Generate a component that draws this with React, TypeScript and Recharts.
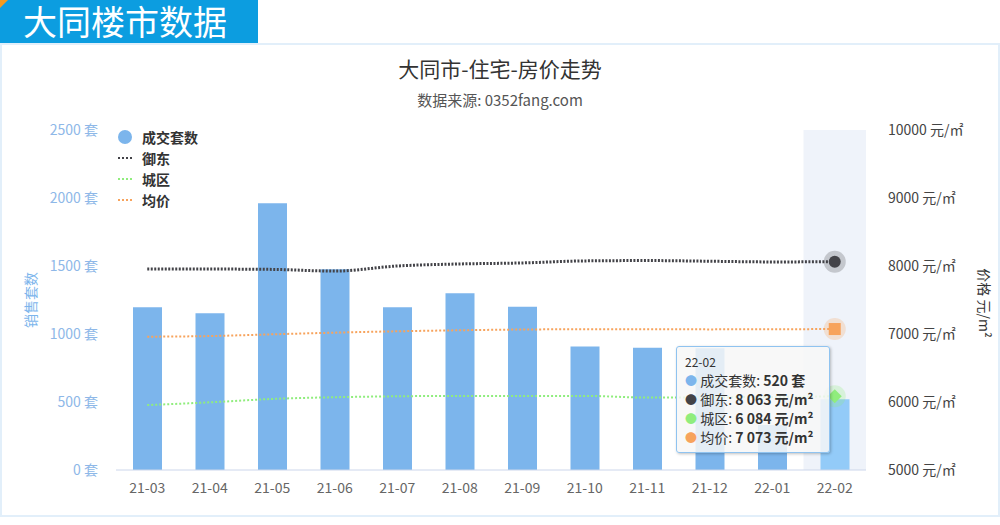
import React from 'react';
import {
  ComposedChart, Bar, Line, XAxis, YAxis, Tooltip, Cell, ReferenceArea,
} from 'recharts';

const months = ['21-03', '21-04', '21-05', '21-06', '21-07', '21-08', '21-09', '21-10', '21-11', '21-12', '22-01', '22-02'];
const sales = [1196, 1152, 1961, 1476, 1196, 1299, 1201, 909, 899, 895, 330, 520];
const yudong = [7955, 7955, 7950, 7925, 8000, 8030, 8045, 8075, 8080, 8070, 8060, 8063];
const chengqu = [5955, 5995, 6045, 6070, 6084, 6090, 6090, 6090, 6065, 6070, 6075, 6084];
const junjia = [6960, 6970, 6995, 7020, 7040, 7055, 7066, 7070, 7070, 7068, 7070, 7073];
const leftTicks = [0, 500, 1000, 1500, 2000, 2500];
const rightTicks = [5000, 6000, 7000, 8000, 9000, 10000];

const data = months.map((m, i) => ({
  month: m,
  sales: sales[i],
  yudong: yudong[i],
  chengqu: chengqu[i],
  junjia: junjia[i],
}));

const FONT = '"Noto Sans CJK SC", "Noto Sans", sans-serif';
const C_BAR = '#7cb5ec';
const C_BAR_HOVER = '#93cbf8';
const C_YD = '#434348';
const C_CQ = '#90ed7d';
const C_JJ = '#f7a35c';

const fmt = (v: number) => {
  const s = String(v);
  return s.length > 3 ? s.slice(0, s.length - 3) + ' ' + s.slice(s.length - 3) : s;
};

const TooltipBox = (props: any) => {
  const { active, label } = props;
  if (!active) return null;
  const i = months.indexOf(label);
  const idx = i >= 0 ? i : months.length - 1;
  const rows = [
    { c: C_BAR, n: '成交套数', v: `${sales[idx]} 套` },
    { c: C_YD, n: '御东', v: `${fmt(yudong[idx])} 元/m²` },
    { c: C_CQ, n: '城区', v: `${fmt(chengqu[idx])} 元/m²` },
    { c: C_JJ, n: '均价', v: `${fmt(junjia[idx])} 元/m²` },
  ];
  return (
    <div style={{
      background: 'rgba(247,247,247,0.85)', border: '1px solid #8fc3f0', borderRadius: 3,
      boxShadow: '1px 1px 3px rgba(0,0,0,0.25)', padding: '6px 6px 6px 8px', fontFamily: FONT,
      color: '#333', width: 154, height: 107, boxSizing: 'border-box',
    }}>
      <div style={{ fontSize: 12, lineHeight: '18px' }}>{months[idx]}</div>
      {rows.map((r) => (
        <div key={r.n} style={{ fontSize: 14, lineHeight: '18px', whiteSpace: 'nowrap' }}>
          <span style={{ color: r.c, fontSize: 12 }}>●</span> {r.n}: <b>{r.v}</b>
        </div>
      ))}
    </div>
  );
};

const LegendBox = () => {
  const items = [
    { n: '成交套数', c: C_BAR, t: 'circle' },
    { n: '御东', c: C_YD, t: 'line' },
    { n: '城区', c: C_CQ, t: 'line' },
    { n: '均价', c: C_JJ, t: 'line' },
  ];
  return (
    <div style={{ fontFamily: FONT }}>
      {items.map((it) => (
        <div key={it.n} style={{ display: 'flex', alignItems: 'center', height: 21 }}>
          <svg width={22} height={16} style={{ marginRight: 3 }}>
            {it.t === 'circle'
              ? <circle cx={8} cy={8} r={7} fill={it.c} />
              : <line x1={1} y1={8} x2={16} y2={8} stroke={it.c} strokeWidth={2} strokeDasharray="2 2" />}
          </svg>
          <span style={{ fontSize: 14, fontWeight: 'bold', color: '#333' }}>{it.n}</span>
        </div>
      ))}
    </div>
  );
};

const makeDot = (color: string, kind: string) => (p: any) => {
  const { cx, cy } = p;
  if (cx == null || cy == null) return <g />;
  let shape;
  if (kind === 'circle') shape = <circle cx={cx} cy={cy} r={6} fill={color} />;
  else if (kind === 'square') shape = <rect x={cx - 6} y={cy - 6} width={12} height={12} fill={color} />;
  else shape = <path d={`M${cx} ${cy - 7}L${cx + 7} ${cy}L${cx} ${cy + 7}L${cx - 7} ${cy}Z`} fill={color} />;
  return (
    <g>
      <circle cx={cx} cy={cy} r={11} fill={color} fillOpacity={0.25} />
      {shape}
    </g>
  );
};

export default function App() {
  return (
    <div style={{ position: 'absolute', left: 0, top: 0, width: 1000, height: 525, background: '#fff', fontFamily: FONT, overflow: 'hidden' }}>
      {/* header */}
      <div style={{ position: 'absolute', left: 0, top: 0, width: 258, height: 43, background: '#0c9de0' }} />
      <div style={{ position: 'absolute', left: 0, top: 0, width: 0, height: 0, borderTop: '8px solid #f39a1e', borderRight: '8px solid transparent' }} />
      <div style={{ position: 'absolute', left: 23, top: 0, lineHeight: '42px', color: '#fff', fontSize: 34, whiteSpace: 'nowrap' }}>大同楼市数据</div>
      <div style={{ position: 'absolute', left: 0, top: 43, width: 1000, height: 474, border: '2px solid #e2effa', boxSizing: 'border-box' }} />
      {/* titles */}
      <div style={{ position: 'absolute', left: 0, top: 53, width: 1000, textAlign: 'center', fontSize: 21, color: '#333', lineHeight: '30px' }}>大同市-住宅-房价走势</div>
      <div style={{ position: 'absolute', left: 0, top: 90, width: 1000, textAlign: 'center', fontSize: 15, color: '#555', lineHeight: '20px' }}>数据来源: 0352fang.com</div>
      <div style={{ position: 'absolute', left: 30, top: 300, transform: 'translate(-50%,-50%) rotate(-90deg)', fontSize: 14, color: C_BAR, whiteSpace: 'nowrap' }}>销售套数</div>
      <div style={{ position: 'absolute', left: 985, top: 303, transform: 'translate(-50%,-50%) rotate(90deg)', fontSize: 14, color: '#333', whiteSpace: 'nowrap' }}>价格 元/m²</div>
      <div style={{ position: 'absolute', left: 0, top: 0 }}>
        <ComposedChart width={1000} height={525} data={data} margin={{ top: 130, right: 0, bottom: 25, left: 0 }}>
          <XAxis dataKey="month" height={30} axisLine={{ stroke: '#ccd6eb' }} tickLine={false} tickSize={6} tickMargin={7}
            tick={{ fill: '#666', fontSize: 14, fontFamily: FONT }} interval={0} />
          <YAxis yAxisId="left" orientation="left" width={116} domain={[0, 2500]} ticks={leftTicks}
            axisLine={false} tickLine={false} tickSize={6} tickMargin={12}
            tickFormatter={(v: number) => `${v} 套`} tick={{ fill: '#8eb8e8', fontSize: 14, fontFamily: FONT }} />
          <YAxis yAxisId="right" orientation="right" width={134} domain={[5000, 10000]} ticks={rightTicks}
            axisLine={false} tickLine={false} tickSize={6} tickMargin={16}
            tickFormatter={(v: number) => `${v} 元/㎡`} tick={{ fill: '#444', fontSize: 14, fontFamily: FONT }} />
          <ReferenceArea yAxisId="left" x1="22-02" x2="22-02" y1={0} y2={2500} fill="#eff3fa" fillOpacity={1} stroke="none" ifOverflow="extendDomain" />
          <Bar yAxisId="left" dataKey="sales" name="成交套数" barSize={29} fill={C_BAR} isAnimationActive={false} activeBar={false}>
            {data.map((d, i) => <Cell key={d.month} fill={i === data.length - 1 ? C_BAR_HOVER : C_BAR} />)}
          </Bar>
          <Line yAxisId="right" type="monotone" dataKey="yudong" name="御东" stroke={C_YD} strokeWidth={3}
            strokeDasharray="2 1.5" dot={false} activeDot={makeDot(C_YD, 'circle')} isAnimationActive={false} />
          <Line yAxisId="right" type="monotone" dataKey="chengqu" name="城区" stroke={C_CQ} strokeWidth={2}
            strokeDasharray="2 2" dot={false} activeDot={makeDot(C_CQ, 'diamond')} isAnimationActive={false} />
          <Line yAxisId="right" type="monotone" dataKey="junjia" name="均价" stroke={C_JJ} strokeWidth={2}
            strokeDasharray="2 2" dot={false} activeDot={makeDot(C_JJ, 'square')} isAnimationActive={false} />
          <Tooltip active={true} defaultIndex={11} position={{ x: 676, y: 346 }} content={<TooltipBox />}
            cursor={false} isAnimationActive={false} wrapperStyle={{ outline: 'none' }} />
        </ComposedChart>
      </div>
      <div style={{ position: 'absolute', left: 117, top: 126, width: 120 }}>
        <LegendBox />
      </div>
    </div>
  );
}
